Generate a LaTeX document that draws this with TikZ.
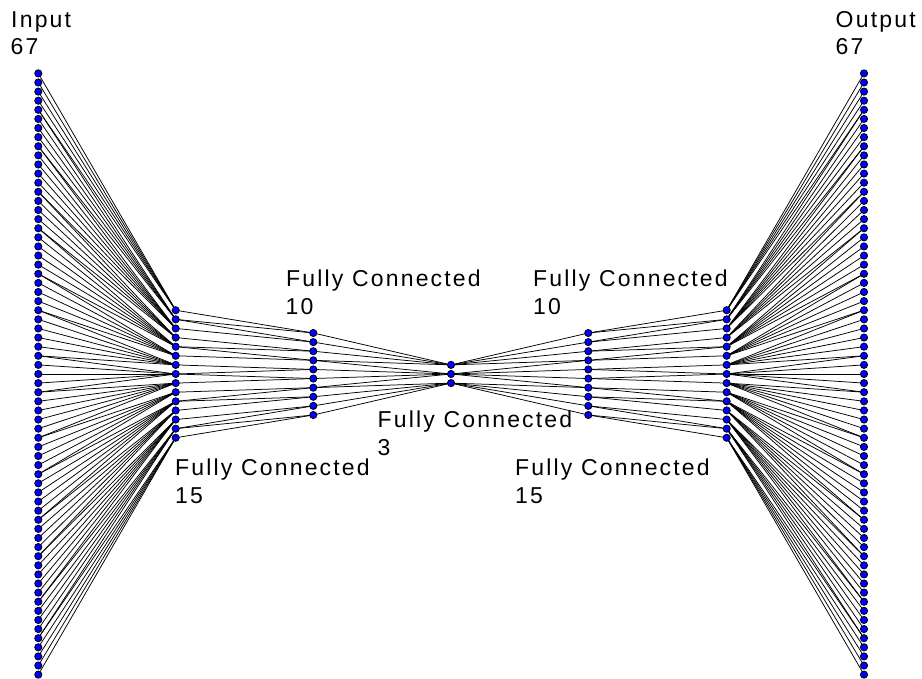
\documentclass[tikz,border=0pt]{standalone}
\usepackage{fontspec}
\setmainfont{Liberation Sans}[LetterSpace=9.5]
\pgfdeclarelayer{background}
\pgfsetlayers{background,main}
\begin{document}
\begin{tikzpicture}[x=1pt,y=-1pt,
  neuron/.style={circle,draw=black,fill=blue,line width=0.8pt,minimum size=7.2pt,inner sep=0pt},
  link/.style={draw=black,line width=0.75pt},
  lbl/.style={anchor=base west,inner sep=0pt,font=\fontsize{23}{27}\selectfont}]
\useasboundingbox (0,0) rectangle (922,679);
% neurons
\foreach \l/\x/\n in {1/38.3/67,2/175.7/15,3/313.3/10,4/451/3,5/588.3/10,6/726.7/15,7/864/67}{
  \foreach \i in {1,...,\n}{
    \node[neuron] (n\l-\i) at (\x,{374+(\i-(\n+1)/2)*9.11}) {};
  }
}
% connections
\begin{pgfonlayer}{background}
\fill[white] (0,0) rectangle (922,679);
\foreach \a/\n/\b/\m in {1/67/2/15,2/15/3/10,3/10/4/3,4/3/5/10,5/10/6/15,6/15/7/67}{
  \foreach \i in {1,...,\n}{
    \foreach \j in {1,...,\m}{
      \pgfmathtruncatemacro\ok{and((\i-1)*\m<\j*\n,(\j-1)*\n<\i*\m)}
      \ifnum\ok=1 \draw[link] (n\a-\i.center) -- (n\b-\j.center);\fi
    }
  }
}
\end{pgfonlayer}
% labels
\node[lbl] (tin1) at (11,28) {Input};
\node[lbl] (tin2) at (10.5,55) {67};
\node[lbl] (tout1) at (835.5,28) {Output};
\node[lbl] (tout2) at (835.5,55) {67};
\node[lbl] (ta1) at (286,287) {Fully Connected};
\node[lbl] (ta2) at (285.5,315) {10};
\node[lbl] (tb1) at (175,475) {Fully Connected};
\node[lbl] (tb2) at (175,503) {15};
\node[lbl] (tc1) at (377.5,428) {Fully Connected};
\node[lbl] (tc2) at (377.5,455) {3};
\node[lbl] (td1) at (533,287) {Fully Connected};
\node[lbl] (td2) at (533,315) {10};
\node[lbl] (te1) at (515,475) {Fully Connected};
\node[lbl] (te2) at (515,503) {15};
\end{tikzpicture}
\end{document}
